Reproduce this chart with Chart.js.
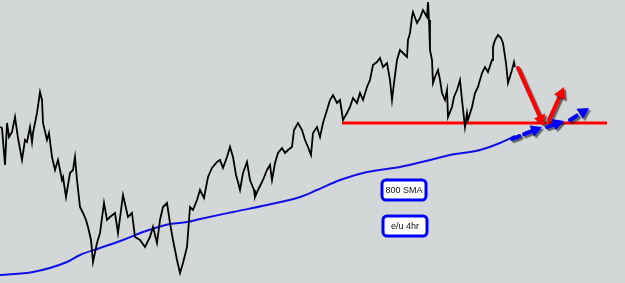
<!DOCTYPE html>
<html>
<head>
<meta charset="utf-8">
<script src="https://cdn.jsdelivr.net/npm/chart.js@4/dist/chart.umd.min.js"></script>
<style>
  body { margin: 0; background: #d4d7d7; }
  #wrap { width: 625px; height: 283px; }
</style>
</head>
<body>
<div id="wrap"><canvas id="chart" width="625" height="283"></canvas></div>
<script>
// bar index and price level (arbitrary units)
var priceBars = [0,2,5,7,9,12,15,18,22,25,27,30,32,33,37,40,42,43,47,49,52,55,58,62,63,66,70,73,75,77,80,83,86,88,91,93,97,100,104,107,110,115,118,123,128,132,135,140,145,150,153,157,160,163,167,170,173,177,180,183,187,190,193,197,200,204,208,212,217,220,223,227,230,233,236,238,240,243,247,250,254,255,258,263,267,270,272,275,278,282,285,288,292,294,298,302,305,308,311,313,317,320,323,327,330,333,337,340,343,347,350,353,357,360,363,367,370,373,377,380,383,387,390,392,394,397,400,403,407,408,410,412,413,417,420,423,427,428,429,430,432,433,435,438,440,442,445,447,448,452,454,457,460,462,465,467,468,472,475,478,482,485,488,492,493,495,498,501,503,506,508,512,514,515];
var priceLevel = [156,155,118,160,146,151,166,145,123,143,141,156,141,150,170,191,183,160,143,150,126,113,123,103,106,86,110,113,126,103,76,70,63,56,43,21,40,50,80,63,66,70,50,88,66,70,46,43,36,46,56,40,63,76,80,60,43,23,10,20,36,76,73,83,93,85,106,115,121,123,115,126,136,126,108,101,93,110,121,103,93,86,93,103,113,118,103,120,130,135,130,133,136,153,160,153,143,136,128,150,156,146,160,173,183,188,180,183,163,170,176,185,180,190,183,196,203,218,221,225,216,220,203,183,200,223,233,230,226,243,250,266,271,260,265,273,266,281,263,233,223,200,206,213,203,190,183,193,166,176,186,193,203,183,156,170,163,176,190,196,210,216,211,223,236,243,248,245,240,220,200,213,221,216];

var smaBars  = [0,33,67,80,100,123,143,170,187,200,233,267,300,317,340,367,400,430,450,480,500,515];
var smaLevel = [8,11,21,28,35,43,51,59,61,64,71,78,86,93,103,111,116,123,128,133,140,147];

var supportBars  = [342, 607];
var supportLevel = 160;

// arrows: [fromBar, fromLevel, toBar, toLevel]
var redArrows  = [[518,215,544,157],[549,163,564,196]];
var blueArrows = [[512,144,542,156],[547,156,564,162],[570,163,589,175]];

// labels: [bar, level, text]
var boxLabels = [[404,93,'800 SMA'],[405,57,'e/u 4hr']];

function pts(xs, ys) {
  return xs.map(function(x, i) { return { x: x, y: ys[i] }; });
}

var overlayPlugin = {
  id: 'overlay',
  afterDatasetsDraw: function(chart) {
    var ctx = chart.ctx;
    var xs = chart.scales.x, ys = chart.scales.y;

    function arrow(a, color, width, dash) {
      var x1 = xs.getPixelForValue(a[0]), y1 = ys.getPixelForValue(a[1]);
      var x2 = xs.getPixelForValue(a[2]), y2 = ys.getPixelForValue(a[3]);
      var ang = Math.atan2(y2 - y1, x2 - x1);
      var head = 11;
      var bx = x2 - Math.cos(ang) * head, by = y2 - Math.sin(ang) * head;
      ctx.save();
      ctx.shadowColor = 'rgba(0,0,0,0.55)';
      ctx.shadowOffsetX = 2;
      ctx.shadowOffsetY = 2;
      ctx.shadowBlur = 1;
      ctx.strokeStyle = color;
      ctx.fillStyle = color;
      ctx.lineWidth = width;
      ctx.lineCap = 'round';
      ctx.setLineDash(dash || []);
      ctx.beginPath();
      ctx.moveTo(x1, y1);
      ctx.lineTo(bx, by);
      ctx.stroke();
      ctx.setLineDash([]);
      ctx.beginPath();
      ctx.moveTo(x2, y2);
      ctx.lineTo(bx + Math.cos(ang + Math.PI / 2) * 6, by + Math.sin(ang + Math.PI / 2) * 6);
      ctx.lineTo(bx + Math.cos(ang - Math.PI / 2) * 6, by + Math.sin(ang - Math.PI / 2) * 6);
      ctx.closePath();
      ctx.fill();
      ctx.restore();
    }

    redArrows.forEach(function(a) { arrow(a, '#ff0000', 4); });
    blueArrows.forEach(function(a) { arrow(a, '#0000ff', 4, [8, 5]); });

    boxLabels.forEach(function(b) {
      var cx = xs.getPixelForValue(b[0]), cy = ys.getPixelForValue(b[1]);
      var w = 44, h = 20, r = 4;
      var x = cx - w / 2, y = cy - h / 2;
      ctx.save();
      ctx.fillStyle = '#ffffff';
      ctx.strokeStyle = '#0000ff';
      ctx.lineWidth = 3;
      ctx.beginPath();
      ctx.roundRect(x, y, w, h, r);
      ctx.fill();
      ctx.stroke();
      ctx.fillStyle = '#111111';
      ctx.font = '9px "Liberation Sans", Arial, sans-serif';
      ctx.textAlign = 'center';
      ctx.textBaseline = 'middle';
      ctx.fillText(b[2], cx, cy + 0.5);
      ctx.restore();
    });
  }
};

new Chart(document.getElementById('chart'), {
  type: 'line',
  data: {
    datasets: [
      {
        label: 'e/u 4hr',
        data: pts(priceBars, priceLevel),
        borderColor: '#000000',
        borderWidth: 1.8,
        pointRadius: 0,
        tension: 0
      },
      {
        label: '800 SMA',
        data: pts(smaBars, smaLevel),
        borderColor: '#1010e8',
        borderWidth: 2,
        pointRadius: 0,
        cubicInterpolationMode: 'monotone'
      },
      {
        label: 'support',
        data: pts(supportBars, [supportLevel, supportLevel]),
        borderColor: '#ff0000',
        borderWidth: 3,
        pointRadius: 0
      }
    ]
  },
  options: {
    responsive: false,
    animation: false,
    layout: { padding: 0 },
    plugins: { legend: { display: false }, tooltip: { enabled: false } },
    scales: {
      x: { type: 'linear', min: 0, max: 625, display: false },
      y: { min: 0, max: 283, display: false }
    }
  },
  plugins: [overlayPlugin]
});
</script>
</body>
</html>
